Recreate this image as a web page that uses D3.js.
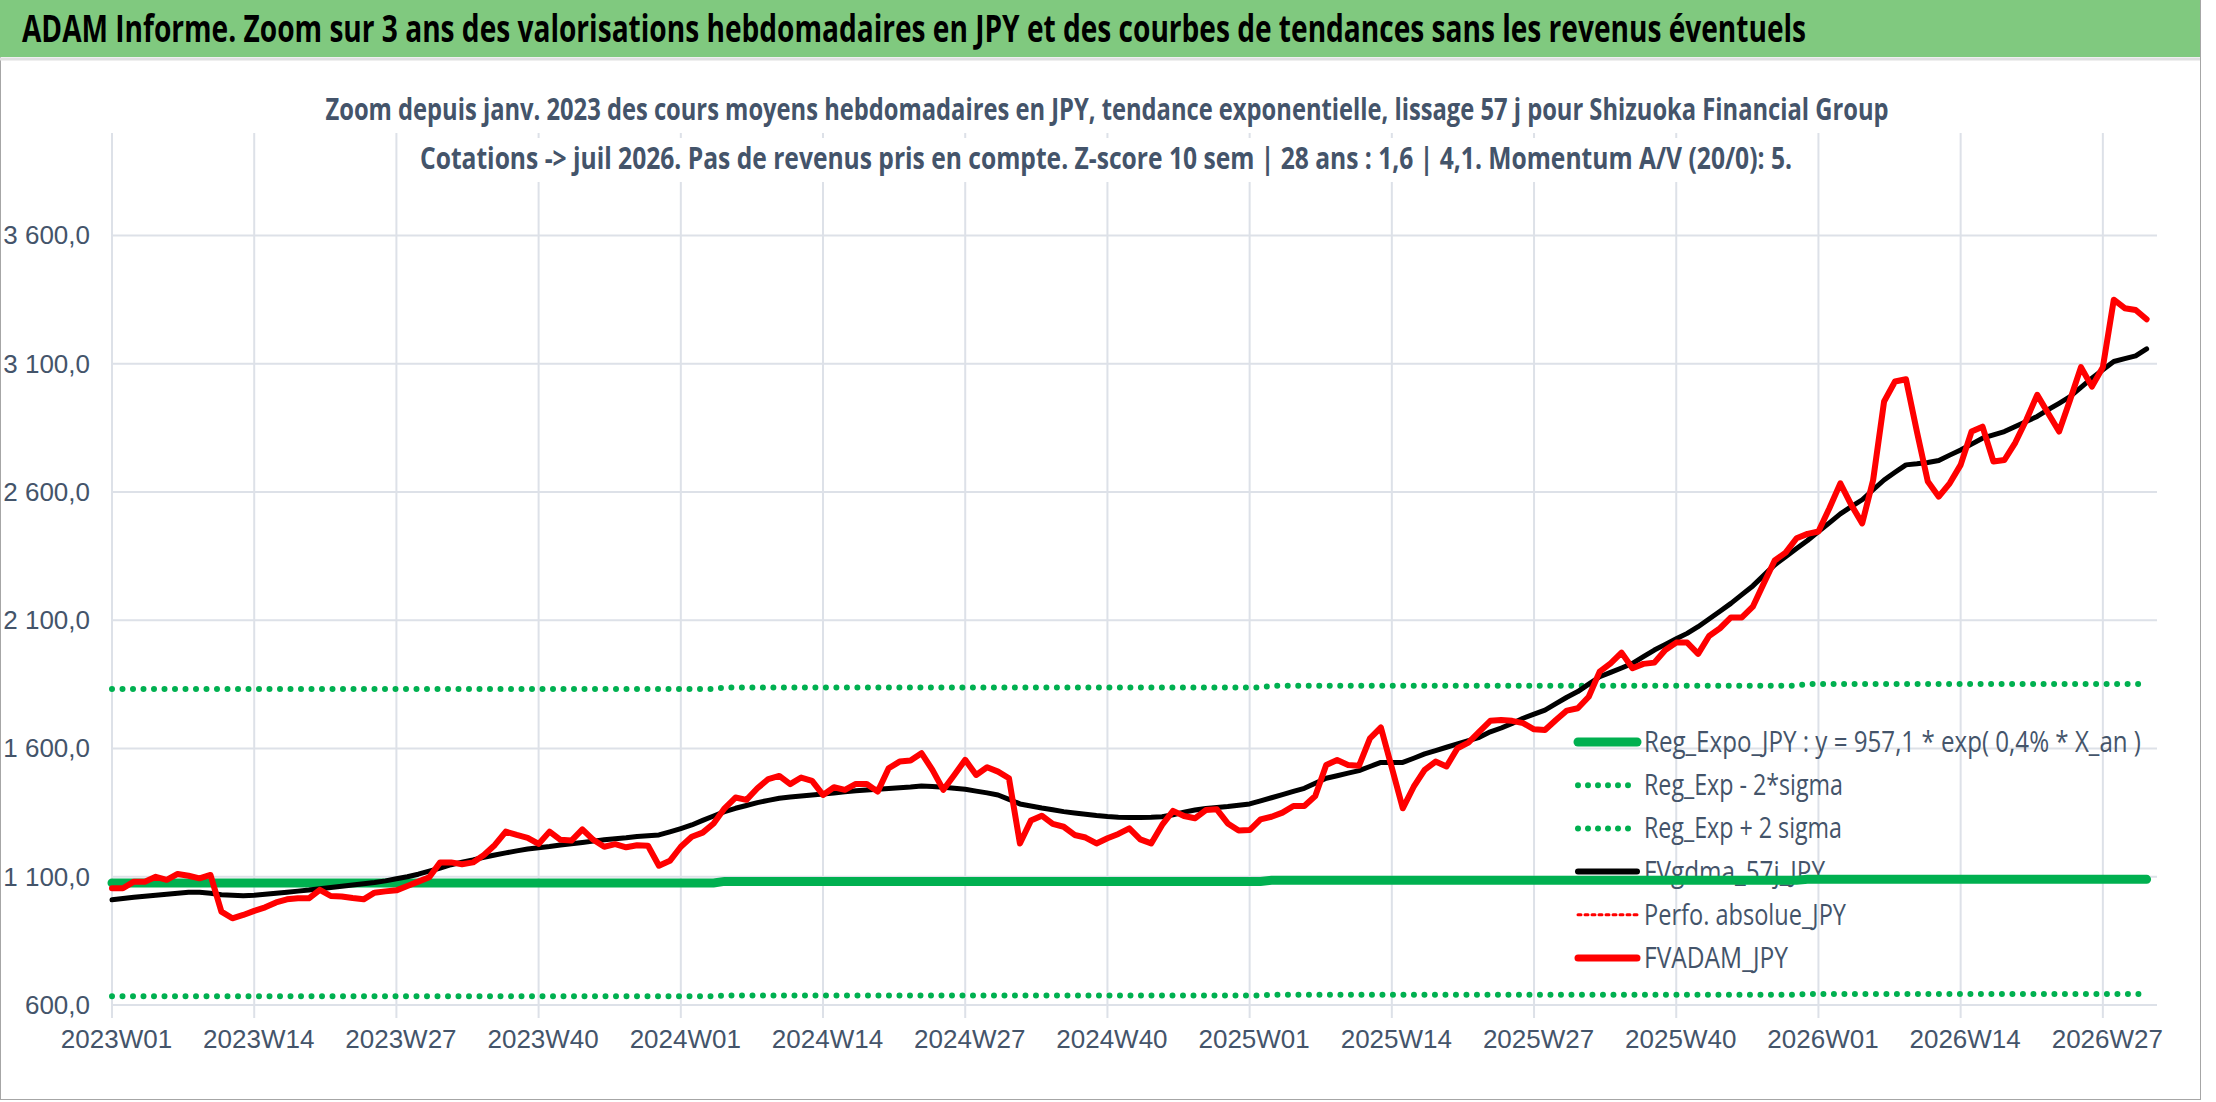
<!DOCTYPE html>
<html>
<head>
<meta charset="utf-8">
<script src="https://cdn.jsdelivr.net/npm/d3@7"></script>
<style>
  body { margin: 0; background: #fff; }
  text { font-family: "Liberation Sans Narrow", "Arial Narrow", "Open Sans", sans-serif; }
</style>
</head>
<body>
<svg id="chart" width="2216" height="1102"></svg>
<script>
// weekly FVADAM_JPY (red), one value per week from 2023W01
const fvadam = [
  1055,1055,1081,1081,1100,1088,1111,1104,1094,1107,
  964,938,951,967,981,1000,1012,1016,1016,1049,
  1025,1023,1017,1012,1038,1043,1047,1064,1081,1098,
  1156,1156,1149,1156,1185,1224,1276,1263,1252,1228,
  1276,1244,1241,1285,1244,1217,1227,1215,1223,1221,
  1143,1162,1217,1256,1272,1308,1367,1409,1400,1445,
  1481,1493,1461,1487,1474,1419,1449,1439,1462,1462,
  1432,1523,1549,1553,1582,1517,1439,1497,1556,1497,
  1527,1510,1484,1230,1319,1338,1306,1295,1263,1253,
  1230,1250,1267,1289,1246,1230,1302,1357,1337,1328,
  1360,1363,1308,1280,1282,1324,1334,1350,1376,1376,
  1415,1536,1555,1536,1533,1640,1682,1525,1367,1451,
  1517,1549,1530,1601,1623,1666,1708,1711,1708,1699,
  1675,1672,1711,1748,1757,1802,1900,1932,1974,1913,
  1930,1935,1984,2013,2013,1969,2039,2069,2111,2111,
  2153,2244,2333,2364,2420,2437,2446,2537,2634,2550,
  2478,2647,2953,3031,3040,2836,2641,2582,2634,2706,
  2836,2855,2719,2725,2793,2881,2979,2907,2836,2959,
  3087,3011,3087,3350,3317,3310,3274
];
// FVgdma_57j_JPY (black)
const fvgdma = [
  1010,1015,1020,1024,1028,1032,1036,1040,1040,1036,
  1030,1028,1026,1028,1032,1036,1040,1044,1048,1053,
  1058,1063,1068,1073,1078,1084,1092,1100,1110,1122,
  1134,1147,1157,1166,1176,1185,1193,1201,1208,1213,
  1218,1224,1229,1234,1239,1244,1248,1252,1257,1260,
  1263,1275,1288,1302,1320,1337,1354,1367,1378,1389,
  1398,1406,1411,1415,1419,1423,1427,1431,1435,1438,
  1441,1444,1447,1450,1454,1452,1449,1445,1441,1434,
  1427,1419,1402,1384,1376,1368,1361,1354,1349,1344,
  1339,1335,1332,1331,1331,1332,1334,1342,1352,1360,
  1366,1370,1374,1379,1384,1396,1408,1420,1433,1445,
  1465,1484,1494,1504,1514,1530,1546,1546,1546,1562,
  1579,1592,1605,1618,1631,1644,1665,1680,1698,1718,
  1734,1750,1775,1800,1822,1851,1880,1897,1914,1932,
  1958,1984,2006,2028,2049,2075,2105,2135,2166,2200,
  2234,2275,2316,2348,2380,2411,2446,2480,2515,2543,
  2570,2609,2647,2677,2706,2710,2715,2723,2744,2764,
  2787,2810,2823,2836,2856,2875,2895,2921,2946,2972,
  3008,3044,3077,3109,3120,3131,3158
];
// regression lines (stepped as drawn)
const regIdx  = [0, 55, 56, 105, 106, 154, 155, 186];
const regMid  = [1076, 1076, 1082, 1082, 1086, 1086, 1090, 1090];
const regLow  = [634, 634, 637, 637, 640, 640, 643, 643];
const regHigh = [1832, 1832, 1838, 1838, 1845, 1845, 1852, 1852];

const xLabels = ["2023W01","2023W14","2023W27","2023W40","2024W01","2024W14","2024W27",
  "2024W40","2025W01","2025W14","2025W27","2025W40","2026W01","2026W14","2026W27"];
const yTicks = [600, 1100, 1600, 2100, 2600, 3100, 3600];

const legendItems = [
  {name: "Reg_Expo_JPY : y = 957,1 * exp( 0,4% *  X_an )", color: "#00b050", w: 9, dash: null, len: 497},
  {name: "Reg_Exp - 2*sigma", color: "#00b050", w: 6, dash: "0 10", len: 199},
  {name: "Reg_Exp + 2 sigma", color: "#00b050", w: 6, dash: "0 10", len: 198},
  {name: "FVgdma_57j_JPY", color: "#000000", w: 6, dash: null, len: 181},
  {name: "Perfo. absolue_JPY", color: "#ff0000", w: 3, dash: "3 4", len: 202},
  {name: "FVADAM_JPY", color: "#ff0000", w: 7, dash: null, len: 144}
];

const svg = d3.select("#chart");
const textCol = "#44546a";

// frame and title band
svg.append("rect").attr("x", 0.5).attr("y", 0.5).attr("width", 2200).attr("height", 1099)
  .attr("fill", "#fff").attr("stroke", "#a6a6a6");
svg.append("rect").attr("x", 0).attr("y", 0).attr("width", 2200).attr("height", 57).attr("fill", "#80c97f");
svg.append("line").attr("x1", 0).attr("x2", 2200).attr("y1", 59).attr("y2", 59).attr("stroke", "#e0e0e0").attr("stroke-width", 3);
svg.append("text").attr("x", 22).attr("y", 42).attr("font-size", 38).attr("font-weight", "bold").attr("fill", "#000")
  .attr("textLength", 1784).attr("lengthAdjust", "spacingAndGlyphs")
  .text("ADAM Informe. Zoom sur 3 ans des valorisations hebdomadaires en JPY et des courbes de tendances sans les revenus éventuels");

// scales
const x = d3.scaleLinear().domain([0, 186.95]).range([112, 2157]);
const y = d3.scaleLinear().domain([600, 4000]).range([1005, 133]);

const fmt = v => d3.format(",.1f")(v).replace(",", " ").replace(".", ",");

// grid
const grid = svg.append("g").attr("stroke", "#dde1e8").attr("stroke-width", 2);
xLabels.forEach((l, k) => {
  grid.append("line").attr("x1", x(k * 13)).attr("x2", x(k * 13)).attr("y1", 133).attr("y2", 1018);
});
yTicks.forEach(v => {
  grid.append("line").attr("x1", x(0)).attr("x2", 2157).attr("y1", y(v)).attr("y2", y(v));
});

// subtitle (on a white box hiding the grid)
svg.append("rect").attr("x", 415).attr("y", 138).attr("width", 1384).attr("height", 44).attr("fill", "#fff");
svg.append("text").attr("x", 1107).attr("y", 120).attr("text-anchor", "middle").attr("font-size", 31).attr("font-weight", "bold")
  .attr("fill", textCol).attr("textLength", 1563).attr("lengthAdjust", "spacingAndGlyphs")
  .text("Zoom depuis janv. 2023 des cours moyens hebdomadaires en JPY, tendance exponentielle, lissage 57 j pour Shizuoka Financial Group");
svg.append("text").attr("x", 1106).attr("y", 169).attr("text-anchor", "middle").attr("font-size", 31).attr("font-weight", "bold")
  .attr("fill", textCol).attr("textLength", 1372).attr("lengthAdjust", "spacingAndGlyphs")
  .text("Cotations -> juil 2026. Pas de revenus pris en compte. Z-score 10 sem | 28 ans : 1,6 | 4,1. Momentum A/V (20/0): 5.");

// axes labels via d3 axis
const yAxis = svg.append("g").attr("transform", "translate(100,0)")
  .call(d3.axisLeft(y).tickValues(yTicks).tickFormat(fmt).tickSize(0).tickPadding(10));
const xAxis = svg.append("g").attr("transform", "translate(4,1020)")
  .call(d3.axisBottom(x).tickValues(xLabels.map((l, k) => k * 13)).tickFormat((d, k) => xLabels[k]).tickSize(0).tickPadding(10));
[yAxis, xAxis].forEach(a => {
  a.select(".domain").remove();
  a.selectAll("text").attr("font-size", 26).attr("fill", textCol).style("font-family", "'Liberation Sans Narrow', 'Arial Narrow', sans-serif");
});

// legend (behind series)
const lg = svg.append("g");
legendItems.forEach((it, k) => {
  const cy = 742 + k * 43.2;
  lg.append("line").attr("x1", 1578).attr("x2", 1637).attr("y1", cy).attr("y2", cy)
    .attr("stroke", it.color).attr("stroke-width", it.w).attr("stroke-linecap", "round")
    .attr("stroke-dasharray", it.dash);
  lg.append("text").attr("x", 1644).attr("y", cy + 10).attr("font-size", 30).attr("fill", textCol)
    .attr("textLength", it.len).attr("lengthAdjust", "spacingAndGlyphs").text(it.name);
});

// series
const stepLine = vals => d3.line().x((d, k) => x(regIdx[k])).y(d => y(d))(vals);
svg.append("path").attr("d", stepLine(regLow)).attr("fill", "none").attr("stroke", "#00b050")
  .attr("stroke-width", 6).attr("stroke-linecap", "round").attr("stroke-dasharray", "0 10.5");
svg.append("path").attr("d", stepLine(regHigh)).attr("fill", "none").attr("stroke", "#00b050")
  .attr("stroke-width", 6).attr("stroke-linecap", "round").attr("stroke-dasharray", "0 10.5");
svg.append("path").attr("d", stepLine(regMid)).attr("fill", "none").attr("stroke", "#00b050")
  .attr("stroke-width", 9).attr("stroke-linecap", "round");

const line = d3.line().x((d, i) => x(i)).y(d => y(d));
svg.append("path").attr("d", line(fvgdma)).attr("fill", "none").attr("stroke", "#000")
  .attr("stroke-width", 5).attr("stroke-linejoin", "round").attr("stroke-linecap", "round");
svg.append("path").attr("d", line(fvadam)).attr("fill", "none").attr("stroke", "#ff0000")
  .attr("stroke-width", 6).attr("stroke-linejoin", "round").attr("stroke-linecap", "round");
</script>
</body>
</html>
